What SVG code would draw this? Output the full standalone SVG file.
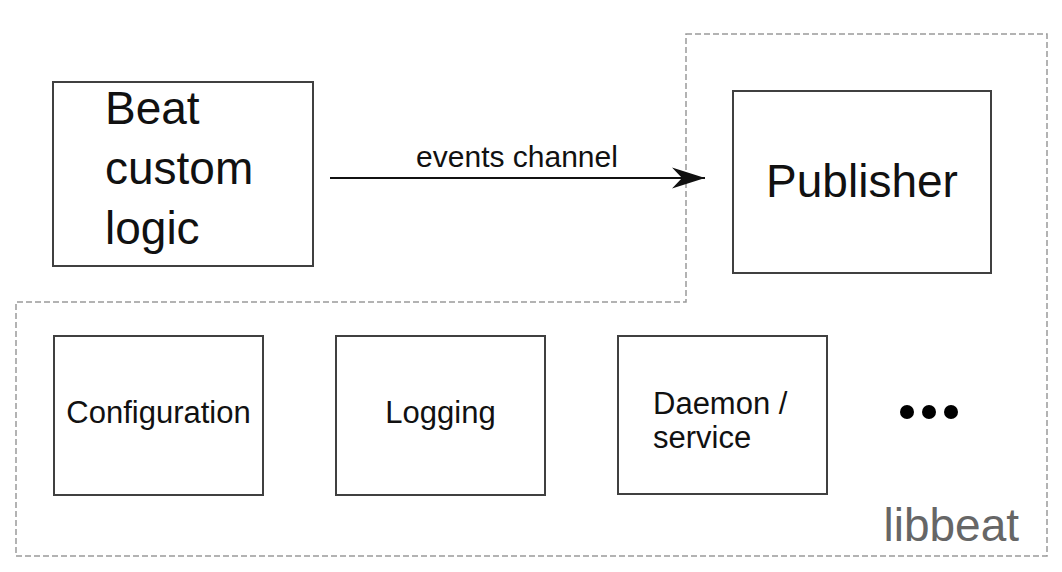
<svg xmlns="http://www.w3.org/2000/svg" width="1062" height="572" viewBox="0 0 1062 572">
<defs>
<style>
.box{fill:#fff;stroke:#404040;stroke-width:2}
.lbl{font-family:"Liberation Sans",Arial,Helvetica,sans-serif;fill:#111}
.big{font-size:46px}
.small{font-size:31px}
.boundary{fill:none;stroke:#9a9a9a;stroke-width:1.5;stroke-dasharray:6 3}
.conn{fill:none;stroke:#111;stroke-width:2}
</style>
<marker id="arrow" markerUnits="userSpaceOnUse" markerWidth="36" markerHeight="24" viewBox="0 0 36 24" refX="34" refY="12" orient="auto">
<path d="M34,12 L1,1.5 L11,12 L1,22.5 Z" fill="#111"/>
</marker>
</defs>
<rect width="1062" height="572" fill="#fff"/>
<g id="libbeat">
<path class="boundary" d="M686,34 L1047,34 L1047,556 L16,556 L16,302 L686,302 Z"/>
<text class="lbl big" x="1019" y="541" text-anchor="end" style="fill:#666">libbeat</text>
</g>
<g id="beat-custom-logic">
<rect class="box" x="53" y="82" width="260" height="184"/>
<text class="lbl big" x="105" y="124">Beat</text>
<text class="lbl big" x="105" y="184">custom</text>
<text class="lbl big" x="105" y="244">logic</text>
</g>
<g id="publisher">
<rect class="box" x="733" y="91" width="258" height="182"/>
<text class="lbl big" x="862" y="197" text-anchor="middle">Publisher</text>
</g>
<g id="configuration">
<rect class="box" x="54" y="336" width="209" height="159"/>
<text class="lbl small" x="158.5" y="423" text-anchor="middle">Configuration</text>
</g>
<g id="logging">
<rect class="box" x="336" y="336" width="209" height="159"/>
<text class="lbl small" x="440.5" y="423" text-anchor="middle">Logging</text>
</g>
<g id="daemon-service">
<rect class="box" x="618" y="336" width="209" height="158"/>
<text class="lbl small" x="653" y="414">Daemon /</text>
<text class="lbl small" x="653" y="448">service</text>
</g>
<g id="more">
<circle cx="907" cy="412" r="7" fill="#000"/>
<circle cx="929" cy="412" r="7" fill="#000"/>
<circle cx="951" cy="412" r="7" fill="#000"/>
</g>
<g id="connectors">
<line class="conn" x1="330" y1="178" x2="705" y2="178" marker-end="url(#arrow)"/>
<text class="lbl small" x="517" y="167" text-anchor="middle" style="font-size:30px">events channel</text>
</g>
</svg>
